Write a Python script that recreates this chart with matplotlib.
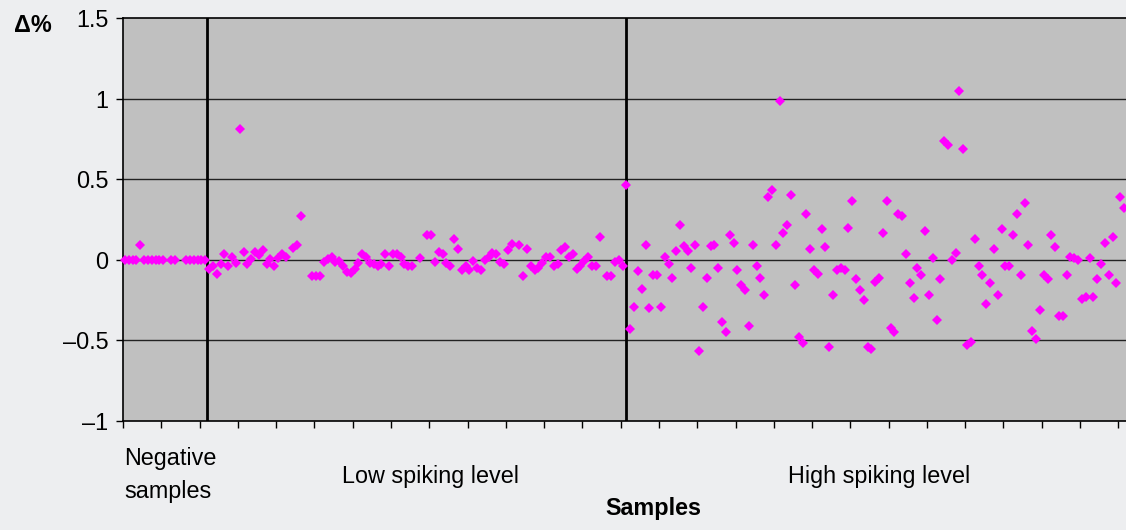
import numpy as np
import matplotlib
matplotlib.use("Agg")
import matplotlib.pyplot as plt

nan = np.nan

# relative deviation (delta %) per sample
negative_values = [0, 0, 0, 0, 0.09, 0, 0, 0, 0, 0, 0, nan, 0, 0, nan, nan,
                   0, 0, 0, 0, 0, 0]

low_values = [
    -0.06, -0.04, -0.085, -0.027, 0.035, -0.04, 0.015, -0.017, 0.81, 0.046,
    -0.027, 0.004, 0.046, 0.03, 0.06, -0.027, 0.004, -0.04, 0.01, 0.035,
    0.02, nan, 0.073, 0.094, 0.273, nan, nan, -0.1, -0.1, -0.1,
    -0.015, 0.004, 0.015, -0.0125, -0.01, -0.04, -0.073, -0.08, -0.058, -0.017,
    0.035, 0.019, -0.017, -0.027, -0.04, -0.027, 0.035, -0.04, 0.035, 0.035,
    0.019, -0.027, -0.04, -0.04, nan, 0.01, nan, 0.156, 0.156, -0.0125,
    0.046, 0.035, -0.017, -0.04, 0.13, 0.067, -0.065, -0.04, -0.065, -0.01,
    -0.05, -0.065, -0.002, 0.019, 0.04, 0.035, -0.0125, -0.027, 0.06, 0.098,
    nan, 0.092, -0.1, 0.07, -0.04, -0.065, -0.048, -0.017, 0.015, 0.019,
    -0.04, -0.027, 0.06, 0.081, 0.019, 0.035, -0.058, -0.04, -0.006, 0.015,
    -0.04, -0.04, 0.144, nan, -0.1, -0.1, -0.0125, -0.002, -0.04,
]

high_values = [
    0.467,
    -0.43, -0.29, -0.072, -0.18, 0.093, -0.30, -0.097, -0.097, -0.29, 0.02,
    -0.027, -0.11, 0.056, 0.213, 0.083, 0.056, -0.052, 0.093, -0.565, -0.29,
    -0.11, 0.083, 0.093, -0.05, -0.385, -0.445, 0.153, 0.106, -0.064, -0.157,
    -0.19, -0.41, 0.093, -0.037, -0.11, -0.22, 0.39, 0.43, 0.093, 0.985,
    0.164, 0.213, 0.40, -0.157, -0.478, -0.518, 0.284, 0.07, -0.064, -0.089,
    0.188, 0.08, -0.538, -0.217, -0.064, -0.052, -0.064, 0.2, 0.366, -0.122,
    -0.19, -0.25, -0.538, -0.553, -0.135, -0.11, 0.164, 0.366, -0.42, -0.447,
    0.284, 0.271, 0.033, -0.147, -0.24, -0.05, -0.097, 0.176, -0.217, 0.01,
    -0.373, -0.122, 0.739, 0.714, -0.002, 0.043, 1.048, 0.689, -0.528, -0.513,
    0.128, -0.037, -0.097, -0.277, -0.145, 0.068, -0.217, 0.188, -0.037, -0.037,
    0.153, 0.284, -0.097, 0.354, 0.093, -0.443, -0.49, -0.313, -0.097, -0.122,
    0.153, 0.08, -0.35, -0.35, -0.097, 0.02, 0.01, -0.002, -0.242, -0.23,
    0.01, -0.23, -0.122, -0.027, 0.106, -0.097, 0.14, -0.145, 0.39, 0.32,
]

y_ticks = [-1, -0.5, 0, 0.5, 1, 1.5]
y_tick_labels = ["\u20131", "\u20130.5", "0", "0.5", "1", "1.5"]
group_labels = ["Low spiking level", "High spiking level"]

BG = "#EDEEF0"
PLOT_BG = "#C0C0C0"
MAGENTA = "#FF00FF"

plt.rcParams["font.family"] = ["Liberation Sans", "DejaVu Sans"]

values = np.array(negative_values + low_values + high_values, dtype=float)
x = np.arange(len(values))
n_neg = len(negative_values)
n_low = len(low_values)

W, H = 1126, 530
fig = plt.figure(figsize=(W / 100, H / 100), dpi=100, facecolor=BG)
ax = fig.add_axes([123 / W, 1 - 421 / H, (W - 123) / W, (421 - 18) / H])
ax.set_facecolor(PLOT_BG)

ax.plot(x, values, linestyle="none", marker="D", markersize=5.2,
        color=MAGENTA, markeredgewidth=0, zorder=4, clip_on=False)

# separators between sample groups
ax.axvline(n_neg - 0.5, color="black", lw=2, zorder=3)
ax.axvline(n_neg + n_low, color="black", lw=2, zorder=3)

ax.set_xlim(-0.5, len(values) - 0.5)
ax.set_ylim(-1, 1.5)
ax.set_yticks(y_ticks)
ax.set_yticklabels(y_tick_labels, fontsize=16.8)
ax.set_xticks(np.arange(-0.5, len(values), 10))
ax.set_xticklabels([])
ax.tick_params(axis="both", direction="out", length=5, width=1, color="black")
ax.tick_params(axis="y", pad=5.5)

for v in [-0.5, 0, 0.5, 1]:
    ax.axhline(v, color="#222222", lw=1, zorder=2)
ax.axhline(1.5, color="black", lw=1.2, zorder=2, clip_on=False)

ax.spines["top"].set_visible(False)
ax.spines["right"].set_visible(False)
ax.spines["left"].set_linewidth(1.2)
ax.spines["bottom"].set_linewidth(1.2)

def fy(py):
    return 1 - py / H

fig.text(14 / W, fy(31.5), "\u0394%", fontsize=16.8, fontweight="bold",
         ha="left", va="baseline")
fig.text(124 / W, fy(465), "Negative", fontsize=16.8, ha="left", va="baseline")
fig.text(124 / W, fy(498), "samples", fontsize=16.8, ha="left", va="baseline")
fig.text(431 / W, fy(483), group_labels[0], fontsize=16.8, ha="center", va="baseline")
fig.text(879 / W, fy(483), group_labels[1], fontsize=16.8, ha="center", va="baseline")
fig.text(653 / W, fy(515), "Samples", fontsize=16.8, fontweight="bold",
         ha="center", va="baseline")

fig.savefig("out.png", dpi=100, facecolor=BG)
